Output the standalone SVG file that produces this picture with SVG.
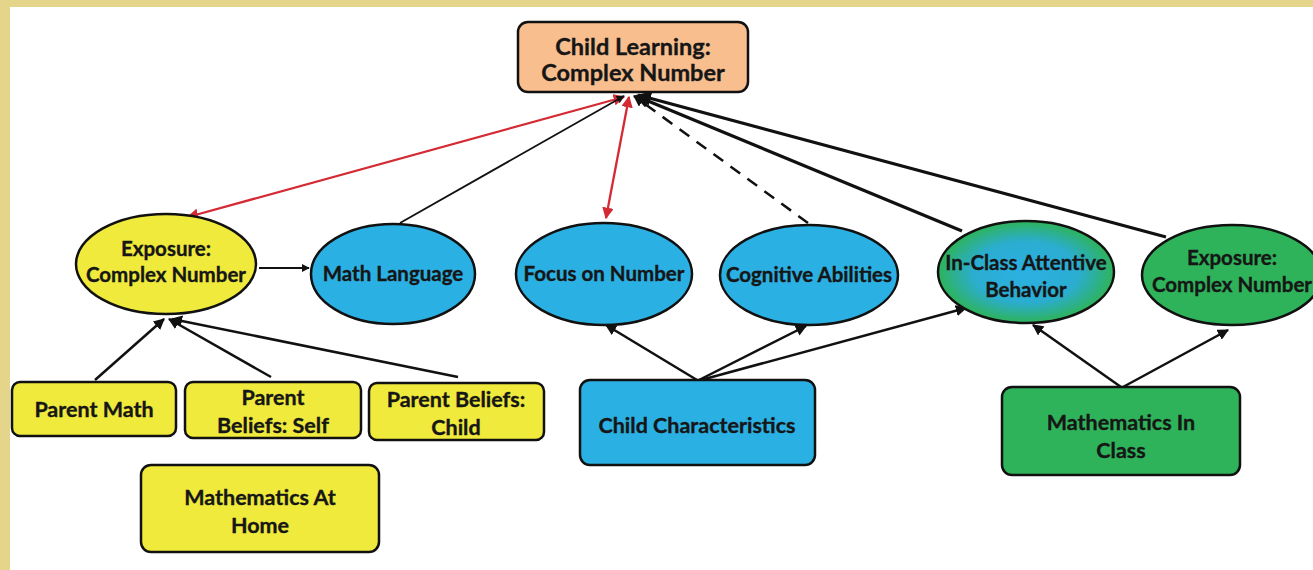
<svg xmlns="http://www.w3.org/2000/svg" width="1313" height="570" viewBox="0 0 1313 570">
<defs>
<style>
.bg{fill:#ffffff}
.frame{fill:#E5D58B}
.n{stroke:#111;stroke-width:2.5}
.y{fill:#EFEA3C}
.b{fill:#2BB0E3}
.g{fill:#2EB35A}
.p{fill:#F8BE8E}
.t{font-family:Lato,"Open Sans","Liberation Sans",sans-serif;font-weight:bold;font-size:21.5px;fill:#161616;text-anchor:middle;stroke:#161616;stroke-width:0.35}
.s{font-size:20.5px}
.l{font-size:23.5px}
.e{fill:none;stroke:#111;stroke-width:2.5}
.thin{stroke-width:1.8}
.thick{stroke-width:3.2}
.red{fill:none;stroke:#D42A34;stroke-width:2.3}
.dash{stroke-dasharray:12 9}
</style>
<marker id="ah" viewBox="0 0 10 10" refX="9" refY="5" markerWidth="4.5" markerHeight="4.5" orient="auto-start-reverse" markerUnits="strokeWidth"><path d="M0,0 L10,5 L0,10 z" fill="#111"/></marker>
<marker id="ar" viewBox="0 0 10 10" refX="9" refY="5" markerWidth="5" markerHeight="5" orient="auto-start-reverse" markerUnits="strokeWidth"><path d="M0,0 L10,5 L0,10 z" fill="#D42A34"/></marker>
<radialGradient id="teal" cx="0.5" cy="0.5" r="0.5">
<stop offset="0" stop-color="#2BB0E3"/>
<stop offset="0.6" stop-color="#2BADD0"/>
<stop offset="1" stop-color="#2EB35A"/>
</radialGradient>
</defs>
<rect class="bg" x="0" y="0" width="1313" height="570"/>
<rect class="frame" x="0" y="0" width="1313" height="7"/>
<rect class="frame" x="0" y="0" width="10" height="570"/>

<g id="connectors">
<line class="red" x1="624" y1="97" x2="188" y2="217" marker-start="url(#ar)" marker-end="url(#ar)"/>
<line class="red" x1="629" y1="97" x2="606" y2="218" marker-start="url(#ar)" marker-end="url(#ar)"/>
<line class="e thin" x1="400" y1="223" x2="624" y2="96" marker-end="url(#ah)"/>
<line class="e dash" x1="808" y1="223" x2="634" y2="96" marker-end="url(#ah)"/>
<line class="e thick" x1="962" y1="231" x2="636" y2="96" marker-end="url(#ah)"/>
<line class="e thick" x1="1166" y1="237" x2="638" y2="95" marker-end="url(#ah)"/>
<line class="e thin" x1="259" y1="268" x2="309" y2="268" marker-end="url(#ah)"/>
<line class="e" x1="95" y1="380" x2="164" y2="319" marker-end="url(#ah)"/>
<line class="e" x1="271" y1="377" x2="169" y2="319" marker-end="url(#ah)"/>
<line class="e" x1="458" y1="377" x2="172" y2="319" marker-end="url(#ah)"/>
<line class="e" x1="697" y1="380" x2="606" y2="325" marker-end="url(#ah)"/>
<line class="e" x1="699" y1="380" x2="806" y2="326" marker-end="url(#ah)"/>
<line class="e" x1="701" y1="380" x2="966" y2="308" marker-end="url(#ah)"/>
<line class="e" x1="1121" y1="387" x2="1033" y2="325" marker-end="url(#ah)"/>
<line class="e" x1="1123" y1="387" x2="1228" y2="330" marker-end="url(#ah)"/>
</g>

<g id="child-learning">
<rect class="n p" x="518" y="22" width="230" height="70" rx="10"/>
<text class="t l" x="633" y="55">Child Learning:</text>
<text class="t l" x="633" y="81">Complex Number</text>
</g>

<g id="exposure-home">
<ellipse class="n y" cx="166" cy="264" rx="90" ry="50"/>
<text class="t s" x="166" y="256">Exposure:</text>
<text class="t s" x="166" y="282">Complex Number</text>
</g>

<g id="math-language">
<ellipse class="n b" cx="393" cy="274" rx="82" ry="50"/>
<text class="t s" x="393" y="281">Math Language</text>
</g>

<g id="focus-number">
<ellipse class="n b" cx="604" cy="274" rx="88" ry="51"/>
<text class="t s" x="604" y="281">Focus on Number</text>
</g>

<g id="cognitive">
<ellipse class="n b" cx="809" cy="275" rx="89" ry="50"/>
<text class="t s" x="809" y="282">Cognitive Abilities</text>
</g>

<g id="in-class-attentive">
<ellipse class="n" fill="url(#teal)" cx="1026" cy="272" rx="88" ry="51"/>
<text class="t s" x="1026" y="270">In-Class Attentive</text>
<text class="t s" x="1026" y="297">Behavior</text>
</g>

<g id="exposure-class">
<ellipse class="n g" cx="1232" cy="275" rx="90" ry="50"/>
<text class="t s" x="1232" y="265">Exposure:</text>
<text class="t s" x="1232" y="292">Complex Number</text>
</g>

<g id="parent-math">
<rect class="n y" x="12" y="382" width="164" height="54" rx="8"/>
<text class="t" x="94" y="417">Parent Math</text>
</g>

<g id="parent-beliefs-self">
<rect class="n y" x="185" y="382" width="176" height="56" rx="8"/>
<text class="t" x="273" y="405">Parent</text>
<text class="t" x="273" y="433">Beliefs: Self</text>
</g>

<g id="parent-beliefs-child">
<rect class="n y" x="369" y="383" width="175" height="57" rx="8"/>
<text class="t" x="456" y="407">Parent Beliefs:</text>
<text class="t" x="456" y="435">Child</text>
</g>

<g id="mathematics-home">
<rect class="n y" x="141" y="465" width="238" height="87" rx="10"/>
<text class="t" x="260" y="505">Mathematics At</text>
<text class="t" x="260" y="533">Home</text>
</g>

<g id="child-characteristics">
<rect class="n b" x="580" y="380" width="235" height="85" rx="10"/>
<text class="t" x="697" y="433">Child Characteristics</text>
</g>

<g id="mathematics-class">
<rect class="n g" x="1002" y="387" width="238" height="88" rx="10"/>
<text class="t" x="1121" y="430">Mathematics In</text>
<text class="t" x="1121" y="458">Class</text>
</g>
</svg>
